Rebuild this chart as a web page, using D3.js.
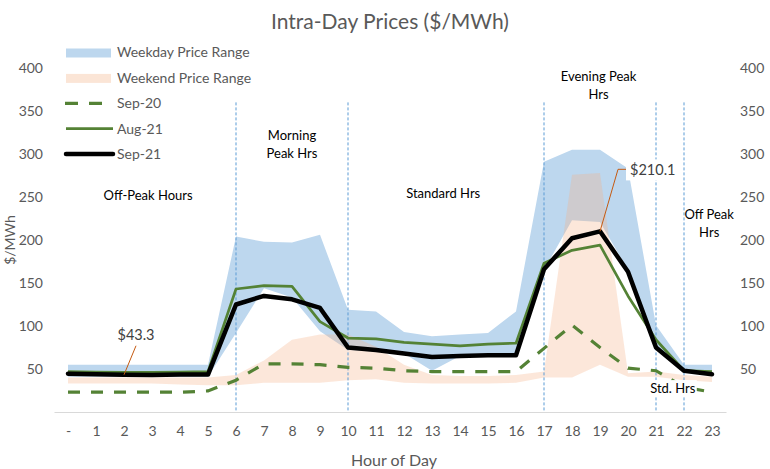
<!DOCTYPE html>
<html>
<head>
<meta charset="utf-8">
<script src="https://cdn.jsdelivr.net/npm/d3@7"></script>
<style>
  body { margin: 0; background: #fff; }
  svg { font-family: Lato, "Open Sans", sans-serif; }
</style>
</head>
<body>
<script>
//Declare consts
const width = 770;
const height = 469;

//Data
const hours = d3.range(0, 24);
const sep21 = [44.6, 43.8, 43.3, 43.0, 43.5, 43.5, 125, 135, 131, 121, 75, 72, 68, 64, 65, 66, 66, 166, 202, 210.1, 163, 75, 48, 44];
const aug21 = [47, 46.5, 46, 46, 46.5, 47, 143, 147, 146, 105, 86, 85, 81, 79, 77, 79, 80, 173, 188, 194, 135, 84, 48, 47];
const sep20 = [23, 23, 23, 23, 23, 24.5, 37, 56, 56, 55, 52, 51, 48, 47, 47, 47, 47, 74, 101, 75, 51, 48, 29, 23];
const weekdayHigh = [55, 55, 55, 55, 55, 55, 204, 198, 197, 206, 119, 117, 93, 88, 90, 92, 117, 291, 305, 305, 283, 101, 55, 55];
const weekdayLow = [41, 41, 41, 41, 41, 41, 92, 144, 133, 94, 72, 70, 68, 48, 65, 66, 66, 165, 223, 221, 165, 76, 46, 43];
const weekendHigh = [40, 40, 40, 40, 40, 40, 43, 60, 84, 90, 90, 76, 55, 43, 42, 42, 43, 47, 276, 278, 45, 47, 43, 41];
const weekendLow = [33, 33, 33, 33, 32, 31, 31, 34, 34, 34, 37, 38, 34, 33, 33, 33, 34, 40, 40, 55, 41, 41, 37, 35];
const yTicks = [50, 100, 150, 200, 250, 300, 350, 400];

//Period markers and labels
const dividerHours = [6, 10, 17, 21, 22];
const periodLabels = [
  { lines: ["Off-Peak Hours"], hour: 2.86, value: 246 },
  { lines: ["Morning", "Peak Hrs"], hour: 8.0, value: 316 },
  { lines: ["Standard Hrs"], hour: 13.4, value: 249 },
  { lines: ["Evening Peak", "Hrs"], hour: 18.95, value: 385 },
  { lines: ["Off Peak", "Hrs"], hour: 22.9, value: 225 },
  { lines: ["Std. Hrs"], hour: 21.6, value: 22, box: true }
];
//callouts on the Sep-21 line
const callouts = [
  { hour: 2, dx: 12, dy: -29, label: "$43.3", ty: -40, elbow: 0 },
  { hour: 19, dx: 18, dy: -62, label: "$210.1", ty: -61, elbow: 8 }
];

const legendItems = [
  { name: "Weekday Price Range", type: "band", color: "#bdd7ee" },
  { name: "Weekend Price Range", type: "band", color: "#fbe5d6" },
  { name: "Sep-20", type: "dash", color: "#548235" },
  { name: "Aug-21", type: "line", color: "#548235" },
  { name: "Sep-21", type: "bold", color: "#000000" }
];

//Scales
const xScale = d3.scaleLinear()
                 .domain([-0.5, 23.5])
                 .range([54, 726]);
const yScale = d3.scaleLinear()
                 .domain([0, 400])
                 .range([412, 68]);

const svg = d3.select("body")
    .append("svg")
    .attr("width", width)
    .attr("height", height);

//Bands
const area = (lo, hi) => d3.area()
    .x(d => xScale(d))
    .y0(d => yScale(lo[d]))
    .y1(d => yScale(hi[d]));

svg.append("path")
    .datum(hours)
    .attr("fill", "#bdd7ee")
    .attr("d", area(weekdayLow, weekdayHigh));

svg.append("path")
    .datum(hours)
    .attr("fill", "#f4b183")
    .attr("fill-opacity", 0.3)
    .attr("d", area(weekendLow, weekendHigh));

//Dividers
svg.selectAll(".divider")
    .data(dividerHours)
    .join("line")
    .attr("class", "divider")
    .attr("x1", d => xScale(d))
    .attr("x2", d => xScale(d))
    .attr("y1", yScale(360))
    .attr("y2", yScale(0))
    .attr("stroke", "#5b9bd5")
    .attr("stroke-width", 1)
    .attr("stroke-dasharray", "3,2");

//Axes
const bottomAxis = d3.axisBottom(xScale)
    .tickValues(hours)
    .tickSize(0)
    .tickPadding(14)
    .tickFormat(d => d === 0 ? "-" : d);
const gx = svg.append("g")
    .attr("transform", "translate(0," + yScale(0) + ")")
    .call(bottomAxis);
gx.select(".domain").attr("stroke", "#d9d9d9");

const leftAxis = d3.axisLeft(yScale).tickValues(yTicks).tickSize(0).tickPadding(3);
const rightAxis = d3.axisRight(yScale).tickValues(yTicks).tickSize(0).tickPadding(3);
const gl = svg.append("g").attr("transform", "translate(46,0)").call(leftAxis);
const gr = svg.append("g").attr("transform", "translate(737,0)").call(rightAxis);
[gl, gr].forEach(g => g.select(".domain").remove());
[gx, gl, gr].forEach(g => g.selectAll("text")
    .attr("fill", "#595959")
    .style("font-size", "14px")
    .style("font-family", "Lato, sans-serif"));

//Lines
const line = vals => d3.line()
    .x(d => xScale(d))
    .y(d => yScale(vals[d]));

svg.append("path")
    .datum(hours)
    .attr("fill", "none")
    .attr("stroke", "#548235")
    .attr("stroke-width", 3.2)
    .attr("stroke-dasharray", "12,11")
    .attr("d", line(sep20));

svg.append("path")
    .datum(hours)
    .attr("fill", "none")
    .attr("stroke", "#548235")
    .attr("stroke-width", 2.7)
    .attr("stroke-linejoin", "round")
    .attr("d", line(aug21));

svg.append("path")
    .datum(hours)
    .attr("fill", "none")
    .attr("stroke", "#000")
    .attr("stroke-width", 4.5)
    .attr("stroke-linejoin", "round")
    .attr("stroke-linecap", "round")
    .attr("d", line(sep21));

//Period labels
const labelG = svg.append("g");
periodLabels.forEach(p => {
    const t = labelG.append("text")
        .attr("x", xScale(p.hour))
        .attr("y", yScale(p.value))
        .attr("text-anchor", "middle")
        .attr("fill", "#000")
        .style("font-size", "13px");
    p.lines.forEach((s, i) => t.append("tspan")
        .attr("x", xScale(p.hour))
        .attr("dy", i === 0 ? 0 : 18)
        .text(s));
    if (p.box) {
        const bb = t.node().getBBox();
        labelG.insert("rect", () => t.node())
            .attr("x", bb.x - 1).attr("y", bb.y)
            .attr("width", bb.width + 2).attr("height", bb.height)
            .attr("fill", "#fff");
    }
});

//Callouts
const calloutG = svg.append("g");
callouts.forEach(c => {
    const px = xScale(c.hour), py = yScale(sep21[c.hour]);
    const pts = [[px, py], [px + c.dx, py + c.dy]];
    if (c.elbow) pts.push([px + c.dx + c.elbow, py + c.dy]);
    calloutG.append("path")
        .attr("d", d3.line()(pts))
        .attr("fill", "none")
        .attr("stroke", "#c55a11")
        .attr("stroke-width", 1);
    const t = calloutG.append("text")
        .attr("x", px + c.dx)
        .attr("y", py + c.ty)
        .attr("text-anchor", "middle")
        .attr("dy", "0.35em")
        .attr("fill", "#404040")
        .style("font-size", "14.5px")
        .text(c.label);
    if (c.elbow) {
        t.attr("x", px + c.dx + c.elbow + 4).attr("text-anchor", "start");
        const bb = t.node().getBBox();
        calloutG.insert("rect", () => t.node())
            .attr("x", bb.x - 4).attr("y", bb.y - 2)
            .attr("width", bb.width + 8).attr("height", bb.height + 4)
            .attr("fill", "#fff");
    }
});

//Legend
const legend = svg.append("g");
legendItems.forEach((d, i) => {
    const y = 52.5 + i * 25.4;
    if (d.type === "band") {
        legend.append("rect")
            .attr("x", 66).attr("y", y - 4)
            .attr("width", 45).attr("height", 9)
            .attr("fill", d.color);
    } else {
        legend.append("line")
            .attr("x1", d.type === "dash" ? 65 : 66).attr("x2", 113)
            .attr("y1", y).attr("y2", y)
            .attr("stroke", d.color)
            .attr("stroke-width", d.type === "bold" ? 4.5 : d.type === "dash" ? 3.2 : 2.7)
            .attr("stroke-dasharray", d.type === "dash" ? "13,11" : null)
            .attr("stroke-linecap", d.type === "bold" ? "round" : "butt");
    }
    legend.append("text")
        .attr("x", 117).attr("y", y)
        .attr("dy", "0.35em")
        .attr("fill", "#595959")
        .style("font-size", "14px")
        .text(d.name);
});

//Titles
svg.append("text")
    .attr("x", 390).attr("y", 22)
    .attr("dy", "0.35em")
    .attr("text-anchor", "middle")
    .attr("fill", "#595959")
    .style("font-size", "21px")
    .text("Intra-Day Prices ($/MWh)");

svg.append("text")
    .attr("x", 394).attr("y", 460)
    .attr("dy", "0.35em")
    .attr("text-anchor", "middle")
    .attr("fill", "#595959")
    .style("font-size", "16px")
    .text("Hour of Day");

svg.append("text")
    .attr("transform", "translate(10,240) rotate(-90)")
    .attr("dy", "0.35em")
    .attr("text-anchor", "middle")
    .attr("fill", "#595959")
    .style("font-size", "14px")
    .text("$/MWh");
</script>
</body>
</html>
